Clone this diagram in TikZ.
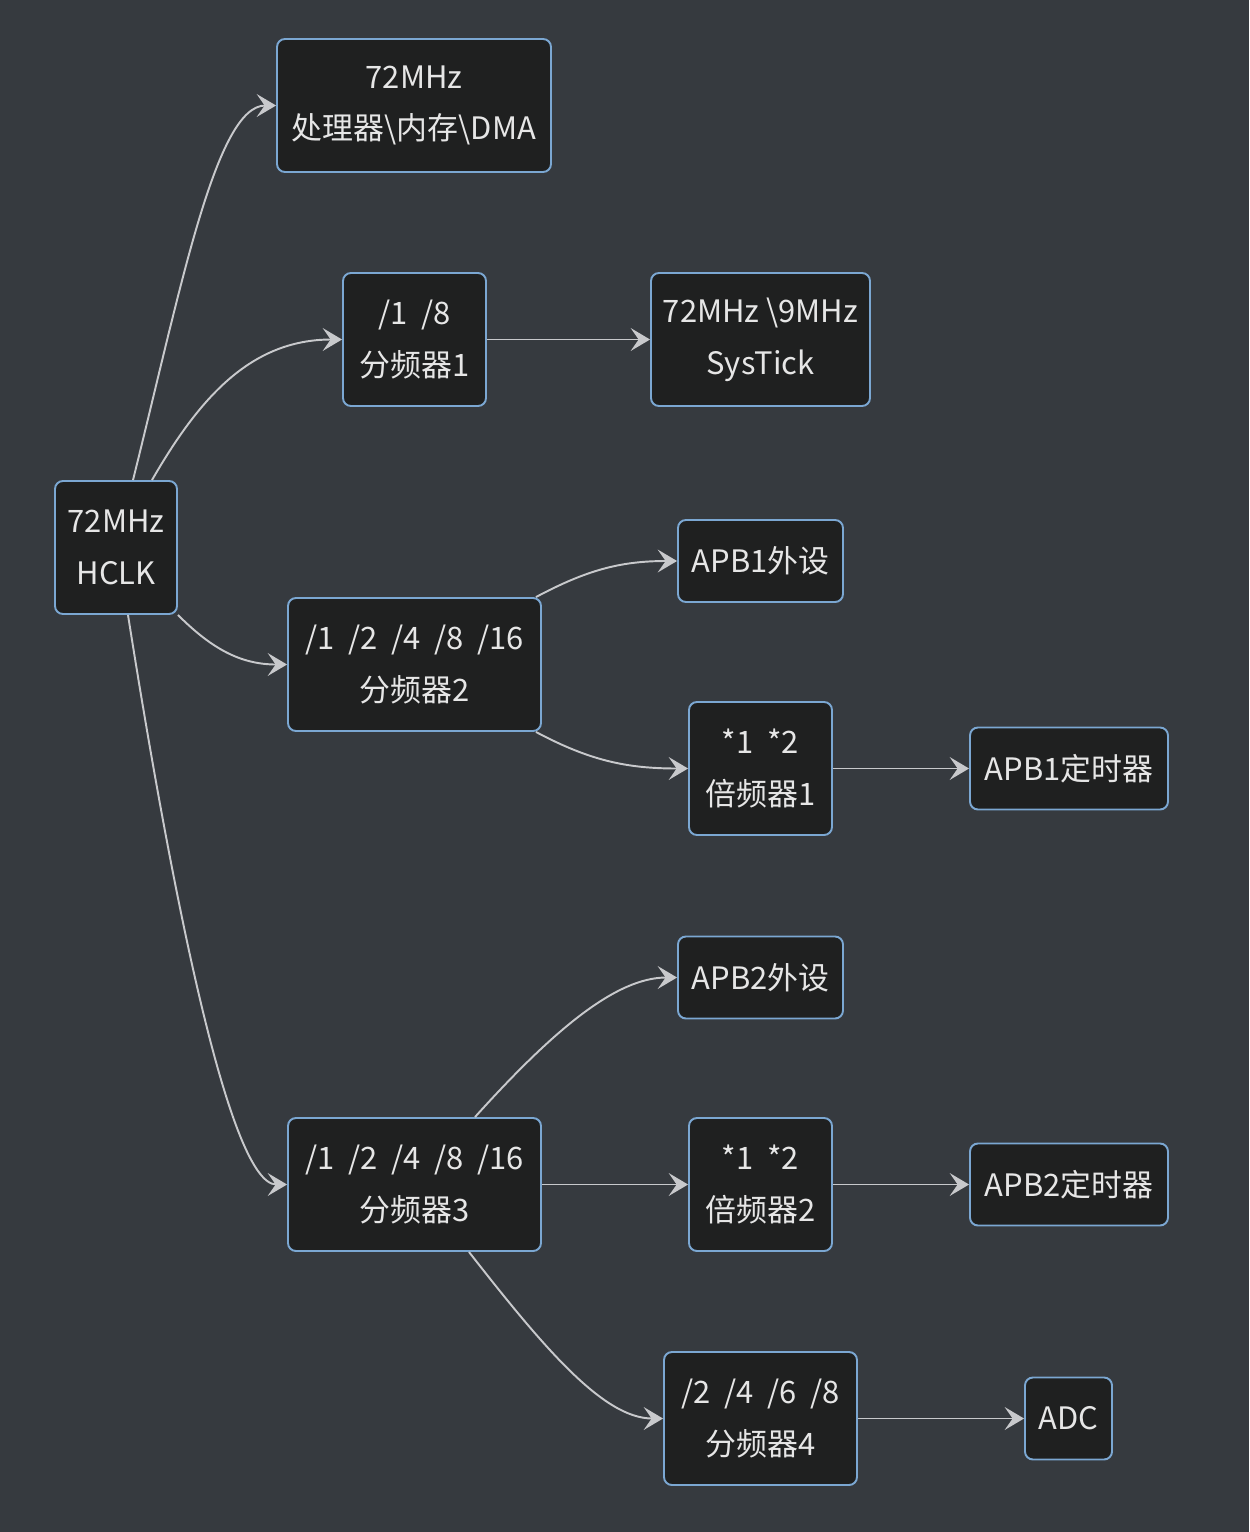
\documentclass[tikz,border=0pt]{standalone}
\usepackage{fontspec}
\setmainfont{Noto Sans CJK SC}
\usetikzlibrary{arrows.meta}
\definecolor{bgcol}{HTML}{363A3F}
\definecolor{boxfill}{HTML}{1F2020}
\definecolor{boxline}{HTML}{7BA7D2}
\definecolor{linkcol}{HTML}{C8C9CC}
\definecolor{txtcol}{HTML}{E6E6E6}
\begin{document}
\begin{tikzpicture}[x=0.02cm,y=-0.02cm,
    box/.style={draw=boxline,fill=boxfill,line width=1.1pt,rounded corners=4.5pt,
      text=txtcol,align=center,minimum height=2.66cm,inner sep=0pt,
      font=\fontsize{17.6}{29.5}\selectfont},
    single/.style={box,minimum height=1.64cm},
    link/.style={draw=linkcol,line width=1.1pt,
      -{Stealth[length=11pt,width=13pt,inset=4.5pt]}}]
  \fill[bgcol] (0,0) rectangle (1249,1532);
  \useasboundingbox (0,0) rectangle (1249,1532);
  % nodes
  \node[box,minimum width=2.44cm] (hclk) at (116,547.5) {72MHz\\HCLK};
  \node[box,minimum width=5.48cm] (cpu) at (414,105.5) {72MHz\\处理器\textbackslash 内存\textbackslash DMA};
  \node[box,minimum width=2.86cm] (div1) at (414.5,339.5) {/1 \ /8\\分频器1};
  \node[box,minimum width=4.38cm] (systick) at (760.5,339.5) {72MHz \textbackslash 9MHz\\SysTick};
  \node[box,minimum width=5.06cm] (div2) at (414.5,664.5) {/1 \ /2 \ /4 \ /8 \ /16\\分频器2};
  \node[single,minimum width=3.3cm] (apb1) at (760.5,561) {APB1外设};
  \node[box,minimum width=2.86cm] (mul1) at (760.5,768.5) {*1 \ *2\\倍频器1};
  \node[single,minimum width=3.96cm] (tim1) at (1069,768.5) {APB1定时器};
  \node[box,minimum width=5.06cm] (div3) at (414.5,1184.5) {/1 \ /2 \ /4 \ /8 \ /16\\分频器3};
  \node[single,minimum width=3.3cm] (apb2) at (760.5,977.5) {APB2外设};
  \node[box,minimum width=2.86cm] (mul2) at (760.5,1184.5) {*1 \ *2\\倍频器2};
  \node[single,minimum width=3.96cm] (tim2) at (1069,1184.5) {APB2定时器};
  \node[box,minimum width=3.86cm] (div4) at (760.5,1418.5) {/2 \ /4 \ /6 \ /8\\分频器4};
  \node[single,minimum width=1.74cm] (adc) at (1068.5,1418.5) {ADC};
  % links
  \draw[link] ([xshift=0.34cm]hclk.north) to[out=76,in=180,out distance=4cm,in distance=1.2cm] (cpu.west);
  \draw[link] ([xshift=0.72cm]hclk.north) to[out=60,in=180] (div1.west);
  \draw[link] (hclk.south east) to[out=-45,in=180] (div2.west);
  \draw[link] ([xshift=0.24cm]hclk.south) to[out=-81,in=180,out distance=5cm,in distance=1.2cm] (div3.west);
  \draw[link] (div1) -- (systick);
  \draw[link] ([xshift=-0.12cm]div2.north east) to[out=28,in=180] (apb1.west);
  \draw[link] ([xshift=-0.12cm]div2.south east) to[out=-28,in=180] (mul1.west);
  \draw[link] (mul1) -- (tim1);
  \draw[link] ([xshift=1.21cm]div3.north) to[out=48,in=180,out distance=2.4cm,in distance=1.2cm] (apb2.west);
  \draw[link] (div3) -- (mul2);
  \draw[link] (mul2) -- (tim2);
  \draw[link] ([xshift=1.09cm]div3.south) to[out=-52,in=180,out distance=2.4cm,in distance=1.2cm] (div4.west);
  \draw[link] (div4) -- (adc);
\end{tikzpicture}
\end{document}
